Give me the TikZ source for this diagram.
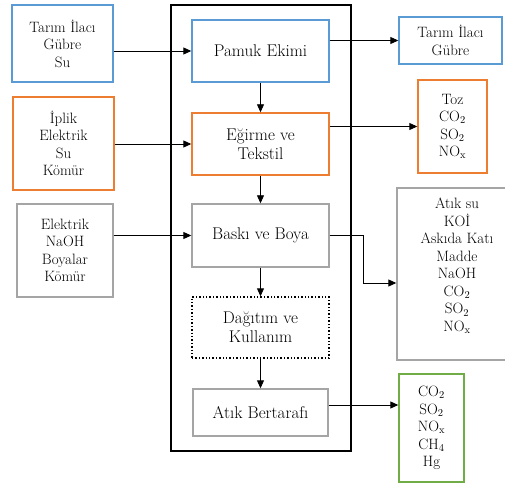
\documentclass[tikz,border=0pt]{standalone}
\usepackage{fontspec}
\usetikzlibrary{arrows.meta,calc}
\definecolor{cblue}{RGB}{91,155,213}
\definecolor{corange}{RGB}{237,125,49}
\definecolor{cgreen}{RGB}{112,173,71}
\definecolor{cgray}{RGB}{165,165,165}
\newcommand{\boxfont}{\fontsize{15}{17.5}\selectfont}
\newcommand{\stepfont}{\fontsize{17}{19}\selectfont}
\begin{document}
\begin{tikzpicture}[x=1pt,y=-1pt,
  box/.style={draw,line width=1.4pt,inner sep=0pt,align=center,font=\boxfont},
  stepbox/.style={box,font=\stepfont},
  bluebox/.style={box,draw=cblue},
  orangebox/.style={box,draw=corange},
  graybox/.style={box,draw=cgray},
  greenbox/.style={box,draw=cgreen},
  dotbox/.style={box,draw=black,dotted,line width=1.2pt},
  txt/.style={inner sep=0pt,align=center,font=\boxfont},
  arr/.style={line width=0.9pt,-{Triangle[length=8pt,width=7pt]}}]
\useasboundingbox (0,0) rectangle (505,486);
\clip (0,0) rectangle (505,486);
\fill[white] (0,0) rectangle (505,486);
% main frame
\draw[line width=1.6pt] (171,5) rectangle (351,451);
% left inputs
\node[bluebox,minimum width=101pt,minimum height=77pt] (L1) at (62.5,43.5) {Tarım İlacı\\Gübre\\Su};
\node[orangebox,minimum width=101pt,minimum height=93pt] (L2) at (63.5,143.5) {İplik\\Elektrik\\Su\\Kömür};
\node[graybox,minimum width=96pt,minimum height=93pt] (L3) at (65,250.5) {Elektrik\\NaOH\\Boyalar\\Kömür};
% centre steps
\node[bluebox,stepbox,minimum width=137pt,minimum height=62pt] (C1) at (260.5,51) {Pamuk Ekimi};
\node[orangebox,stepbox,minimum width=137pt,minimum height=62pt] (C2) at (260.5,144) {Eğirme ve\\Tekstil};
\node[graybox,stepbox,minimum width=137pt,minimum height=63pt] (C3) at (260.5,235.5) {Baskı ve Boya};
\node[dotbox,stepbox,minimum width=137pt,minimum height=61pt] (C4) at (260.5,327.5) {Dağıtım ve\\Kullanım};
\node[graybox,stepbox,minimum width=135pt,minimum height=47pt] (C5) at (260.5,412.5) {Atık Bertarafı};
% right outputs
\node[bluebox,minimum width=103pt,minimum height=47pt] (R1) at (450.5,40.5) {Tarım İlacı\\Gübre};
\node[orangebox,minimum width=69pt,minimum height=93pt] (R2) at (452.5,126.5) {Toz\\CO\textsubscript{2}\\SO\textsubscript{2}\\NO\textsubscript{x}};
\node[graybox,minimum width=116pt,minimum height=172pt] (R3) at (455,274) {};
\node[txt] (R3t) at (457,266) {Atık su\\KOİ\\Askıda Katı\\Madde\\NaOH\\CO\textsubscript{2}\\SO\textsubscript{2}\\NO\textsubscript{x}};
\node[greenbox,minimum width=65pt,minimum height=108pt] (G) at (431.5,428) {CO\textsubscript{2}\\SO\textsubscript{2}\\NO\textsubscript{x}\\CH\textsubscript{4}\\Hg};
% input arrows
\draw[arr] (L1.east |- C1.west) -- (C1.west);
\draw[arr] (L2.east |- C2.west) -- (C2.west);
\draw[arr] (L3.east |- C3.west) -- (C3.west);
% vertical flow
\draw[arr] (C1.south) -- (C2.north);
\draw[arr] (C2.south) -- (C3.north);
\draw[arr] (C3.south) -- (C4.north);
\draw[arr] (C4.south) -- (C5.north);
% output arrows
\draw[arr] (C1.east |- R1.west) -- (R1.west);
\draw[arr] (C2.east |- R2.west) -- (R2.west);
\coordinate (k3) at (363,283);
\draw[arr] (C3.east) -| (k3) -- (R3.west |- k3);
\coordinate (k5) at ([yshift=7.5pt]C5.east);
\draw[arr] (k5) -- (G.west |- k5);
\end{tikzpicture}
\end{document}
